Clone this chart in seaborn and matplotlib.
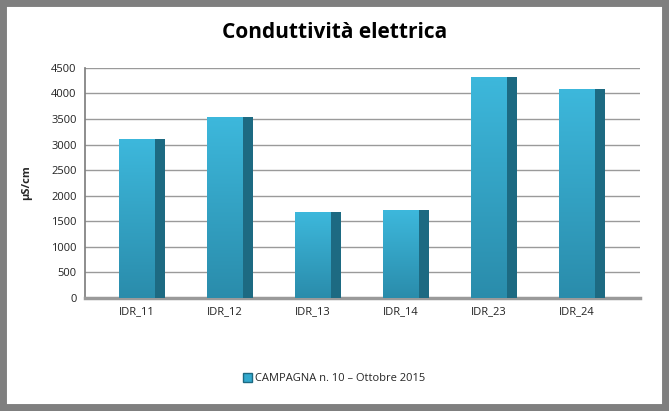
import matplotlib
matplotlib.use("Agg")
import matplotlib.pyplot as plt
import matplotlib.patches as mpatches
import numpy as np
import seaborn as sns
import pandas as pd

# ── data ──────────────────────────────────────────────
STATIONS = ["IDR_11", "IDR_12", "IDR_13", "IDR_14", "IDR_23", "IDR_24"]
VALUES = [3100, 3530, 1680, 1720, 4330, 4090]
Y_TICKS = [0, 500, 1000, 1500, 2000, 2500, 3000, 3500, 4000, 4500]
SERIES = "CAMPAGNA n. 10 – Ottobre 2015"

FRONT = "#33A9CD"
SIDE = "#1D6A82"

sns.set_theme(style="white")
plt.rcParams["font.family"] = ["Open Sans", "DejaVu Sans"]

df = pd.DataFrame({"station": STATIONS, "value": VALUES})

fig = plt.figure(figsize=(6.69, 4.11), dpi=100)
fig.patch.set_facecolor("white")
ax = fig.add_axes([0.127, 0.275, 0.83, 0.56])

sns.barplot(data=df, x="station", y="value", color=FRONT, width=0.40,
            saturation=1, ax=ax, zorder=3)

# vertical gradient on the front faces + darker side face (fake 3D)
grad = np.linspace(1, 0, 256).reshape(-1, 1)
cmap = matplotlib.colors.LinearSegmentedColormap.from_list(
    "g", ["#2A8CAB", "#3DB8DC"])
for bar in list(ax.patches):
    x0, w, h = bar.get_x(), bar.get_width(), bar.get_height()
    img = ax.imshow(grad[::-1], extent=(x0, x0 + w, 0, h), origin="lower",
                    aspect="auto", cmap=cmap, zorder=4)
    img.set_clip_path(bar)
    ax.add_patch(mpatches.Rectangle((x0 + w, 0), 0.125, h, facecolor=SIDE,
                                    edgecolor="none", zorder=3))
    bar.set_edgecolor("none")

ax.set_ylim(0, 4500)
ax.set_yticks(Y_TICKS)
ax.set_xlim(-0.585, 5.72)
ax.yaxis.grid(True, color="#9a9a9a", linewidth=1.0, zorder=0)
ax.set_axisbelow(True)
for s in ["top", "right"]:
    ax.spines[s].set_visible(False)
ax.spines["left"].set_color("#808080")
ax.spines["bottom"].set_color("#9a9a9a")
ax.spines["bottom"].set_linewidth(2.5)
ax.tick_params(axis="both", labelsize=8, colors="#222222", length=0, pad=6)
ax.set_xlabel("")
ax.set_ylabel("µS/cm", fontsize=8, fontweight="bold", labelpad=14)

fig.text(0.5, 0.92, "Conduttività elettrica", ha="center", va="center",
         fontsize=15, fontweight="bold", color="black")

handle = mpatches.Patch(facecolor=FRONT, edgecolor=SIDE, label=SERIES)
fig.legend(handles=[handle], loc="center", bbox_to_anchor=(0.5, 0.078),
           frameon=False, fontsize=8, handlelength=0.8, handleheight=0.8,
           handletextpad=0.3)

# outer gray frame
fig.add_artist(mpatches.Rectangle((0, 0), 1, 1, transform=fig.transFigure,
                                  fill=False, edgecolor="#7f7f7f",
                                  linewidth=10))

fig.savefig("out.png", dpi=100)
